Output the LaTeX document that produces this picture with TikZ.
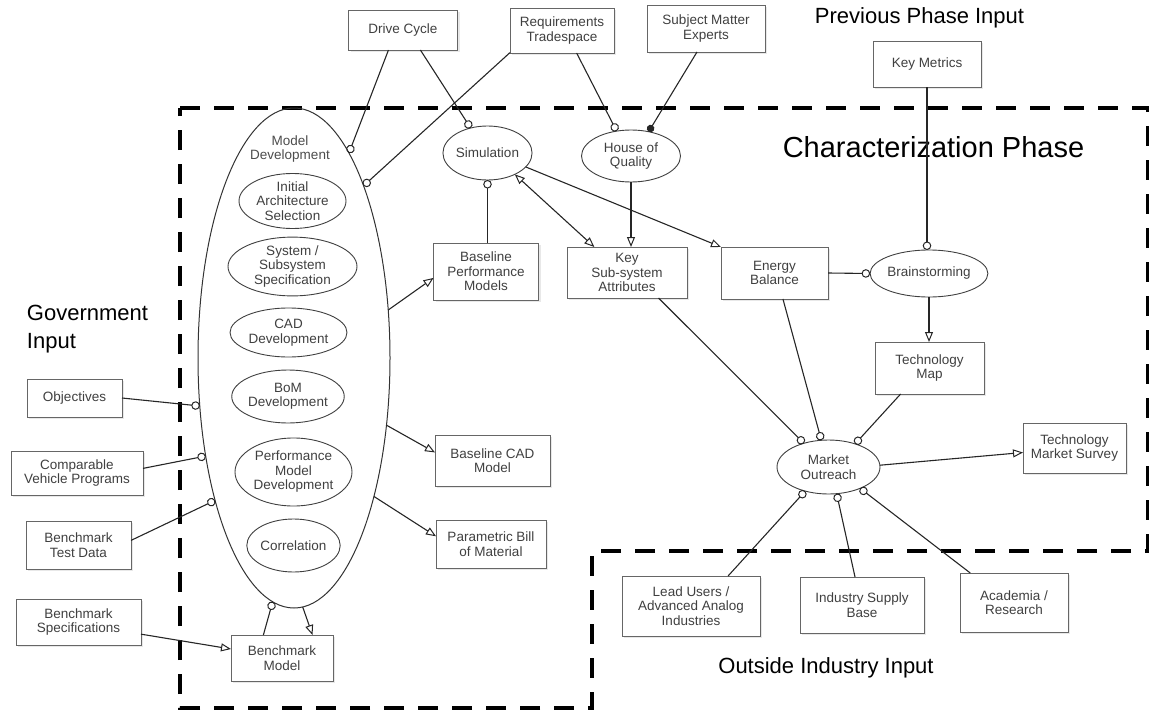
\documentclass[tikz,border=0pt]{standalone}
\usepackage{fontspec}
\setmainfont{Liberation Sans}
\usetikzlibrary{arrows.meta,shapes.geometric,shadows}
\newcommand\smallfnt{\fontsize{13.5}{14.5}\selectfont}
\begin{document}
\begin{tikzpicture}[x=1pt,y=-1pt,
  every node/.style={inner sep=0pt, outer sep=0pt},
  box/.style={rectangle, draw=black!60, line width=0.8pt, fill=white, align=center,
    font=\smallfnt, text=black!75,
    drop shadow={shadow xshift=2pt, shadow yshift=-2pt, fill=black!18}},
  ell/.style={ellipse, draw=black!75, line width=0.9pt, fill=white, align=center,
    font=\smallfnt, text=black!75},
  conn/.style={draw=black!85, line width=1.1pt},
  endcirc/.style={conn, -{Circle[open,length=8.5pt,line width=1pt]}},
  endfill/.style={conn, -{Circle[length=7.5pt]}},
  endtri/.style={conn, -{Triangle[open,length=10pt,width=8pt,line width=1pt]}},
  bothtri/.style={conn, {Triangle[open,length=10pt,width=8pt,line width=1pt]}-{Triangle[open,length=10pt,width=8pt,line width=1pt]}},
  phase/.style={draw=black, line width=4.5pt, dash pattern=on 20pt off 14pt}
]
\useasboundingbox (0,0) rectangle (1149,715);

% phase boundary
\draw[phase] (180,108) -- (1148,108) -- (1148,551) -- (592,551) -- (592,708) -- (180,708) -- cycle;

% headings
\node[font=\fontsize{22}{28}\selectfont] (prevlbl) at (919.5,18) {Previous Phase Input};
\node[font=\fontsize{29}{32}\selectfont] (charlbl) at (933.5,147) {Characterization Phase};
\node[font=\fontsize{22}{28}\selectfont, align=left, anchor=west] (govlbl) at (27,329) {Government\\Input};
\node[font=\fontsize{22}{28}\selectfont] (outlbl) at (826,668) {Outside Industry Input};

% model development group
\node[ellipse, draw=black!80, line width=1pt, minimum width=192pt, minimum height=500pt] (md) at (294,358) {};
\node[font=\smallfnt, text=black!70, align=center] (mdlbl) at (290,149) {Model\\Development};
\node[ell, minimum width=107pt, minimum height=54pt] (ias) at (292.5,201) {Initial\\Architecture\\Selection};
\node[ell, minimum width=129pt, minimum height=53pt] (sss) at (292.5,266.5) {System /\\Subsystem\\Specification};
\node[ell, minimum width=117pt, minimum height=49pt] (cad) at (288.5,332.5) {CAD\\Development};
\node[ell, minimum width=108pt, minimum height=53pt] (bom) at (288,396.5) {BoM\\Development};
\node[ell, minimum width=117pt, minimum height=68pt] (pmd) at (293.5,472) {Performance\\Model\\Development};
\node[ell, minimum width=91pt, minimum height=53pt] (cor) at (293.5,545.5) {Correlation};

% top inputs
\node[box, minimum width=109pt, minimum height=40pt] (dc) at (403,30) {Drive Cycle};
\node[box, minimum width=104pt, minimum height=45pt] (rt) at (562,30.5) {Requirements\\Tradespace};
\node[box, minimum width=118pt, minimum height=47pt] (sme) at (706,28.5) {Subject Matter\\Experts};
\node[box, minimum width=108pt, minimum height=46pt] (km) at (927,64) {Key Metrics};

% characterization activities
\node[ell, minimum width=89pt, minimum height=54pt] (sim) at (487.5,153) {Simulation};
\node[ell, minimum width=99pt, minimum height=52pt] (hoq) at (631,156) {House of\\Quality};
\node[box, minimum width=105pt, minimum height=57pt] (bpm) at (486,271.5) {Baseline\\Performance\\Models};
\node[box, minimum width=120pt, minimum height=51pt] (ksa) at (627,272.5) {Key\\Sub-system\\Attributes};
\node[box, minimum width=107pt, minimum height=52pt] (eb) at (774.5,273) {Energy\\Balance};
\node[ell, minimum width=114pt, minimum height=47pt] (bs) at (929,273.5) {Brainstorming};
\node[box, minimum width=109pt, minimum height=52pt] (tm) at (929.5,368) {Technology\\Map};
\node[ell, minimum width=103pt, minimum height=54pt] (mo) at (828.5,467) {Market\\Outreach};
\node[box, minimum width=103pt, minimum height=50pt] (tms) at (1074.5,448) {Technology\\Market Survey};
\node[box, minimum width=115pt, minimum height=51pt] (bcad) at (492.5,460.5) {Baseline CAD\\Model};
\node[box, minimum width=110pt, minimum height=48pt] (pbom) at (491,544) {Parametric Bill\\of Material};

% outside industry inputs
\node[box, minimum width=138pt, minimum height=60pt] (lu) at (691,606) {Lead Users /\\Advanced Analog\\Industries};
\node[box, minimum width=124pt, minimum height=56pt] (isb) at (862,605) {Industry Supply\\Base};
\node[box, minimum width=108pt, minimum height=59pt] (ar) at (1014,602.5) {Academia /\\Research};

% government inputs
\node[box, minimum width=95pt, minimum height=38pt] (obj) at (74.5,398) {Objectives};
\node[box, minimum width=132pt, minimum height=44pt] (cvp) at (77,473) {Comparable\\Vehicle Programs};
\node[box, minimum width=105pt, minimum height=48pt] (btd) at (78.5,545) {Benchmark\\Test Data};
\node[box, minimum width=125pt, minimum height=46pt] (bsp) at (78.5,622) {Benchmark\\Specifications};
\node[box, minimum width=102pt, minimum height=46pt] (bm) at (282,658) {Benchmark\\Model};

% connectors
\draw[endcirc] (dc.-126.9) -- (md.75.8);
\draw[endcirc] (dc.-49.6) -- (sim.124);
\draw[endcirc] (rt.-157.5) -- (md.68.3);
\draw[endcirc] (rt.-57) -- (hoq.120);
\draw[endfill] (sme.-111) -- (hoq.54);
\draw[endcirc] (sim.south |- bpm.north) -- (sim.south);
\draw[endtri] (hoq.south) -- (hoq.south |- ksa.north);
\draw[endtri] (sim.-20.6) -- (eb.north west);
\draw[bothtri] (sim.-38) -- (ksa.142);
\draw[endcirc] (km.south) -- (km.south |- bs.north);
\draw[endcirc] (eb.east) -- (bs.west);
\draw[endtri] (bs.south) -- (bs.south |- tm.north);
\draw[endcirc] (ksa.-39.4) -- (mo.136.5);
\draw[endcirc] (eb.-72) -- (mo.105);
\draw[endcirc] (tm.-138.6) -- (mo.41.5);
\draw[endtri] (mo.2) -- (tms.185.5);
\draw[endcirc] (lu.39.8) -- (mo.226.5);
\draw[endcirc] (isb.104) -- (mo.287);
\draw[endcirc] (ar.146.2) -- (mo.326);
\draw[endtri] (md.27.5) -- (bpm.187);
\draw[endtri] (md.-36.9) -- (bcad.172.6);
\draw[endtri] (md.-60) -- (pbom.172.7);
\draw[endcirc] (obj.east) -- (md.207);
\draw[endcirc] (cvp.4.3) -- (md.228.5);
\draw[endcirc] (btd.5.4) -- (md.241.2);
\draw[endtri] (bsp.-11.7) -- (bm.170);
\draw[endcirc] (bm.129.6) -- (md.265.7);
\draw[endtri] (md.272.5) -- (bm.37.5);
\end{tikzpicture}
\end{document}
